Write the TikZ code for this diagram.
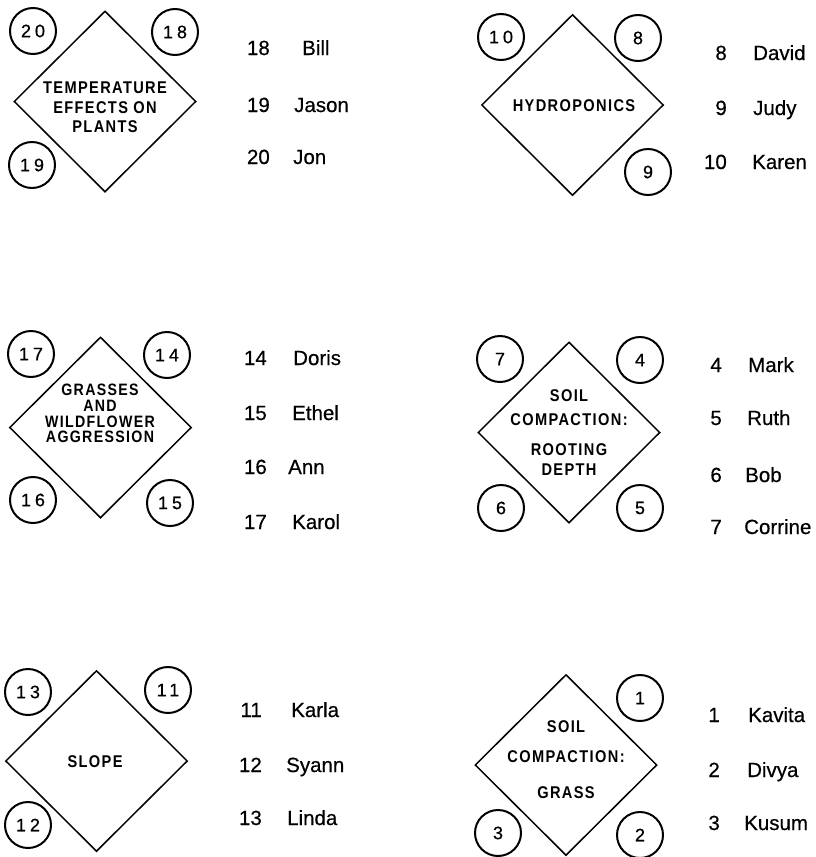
\documentclass[tikz,border=0pt]{standalone}
\usepackage{fontspec}
\setmainfont{Liberation Sans}
\newfontfamily\topicfont[FakeStretch=0.86,LetterSpace=8]{Liberation Sans}
\newfontfamily\seatfont[LetterSpace=22,FakeBold=0.6]{Liberation Sans}
\newfontfamily\listfont[FakeBold=0.5]{Liberation Sans}
\usetikzlibrary{shapes.geometric}
\tikzset{
  topic/.style={
    shape = diamond,
    draw,
    line width = 1.5pt,
    minimum width = 182pt,
    minimum height = 181pt,
    inner sep = 0pt
  },
  topiclabel/.style={
    align = center,
    inner sep = 0pt,
    font = \topicfont\bfseries\fontsize{17}{19.5}\selectfont
  },
  seat/.style={
    shape = circle,
    draw,
    line width = 2pt,
    minimum size = 46pt,
    inner sep = 0pt,
    font = \seatfont\fontsize{18}{18}\selectfont
  },
  seatnum/.style={
    anchor = base east,
    inner sep = 0pt,
    font = \listfont\fontsize{20.5}{24}\selectfont
  },
  pupil/.style={
    anchor = base west,
    inner sep = 0pt,
    font = \listfont\fontsize{20.5}{24}\selectfont
  }
}

\begin{document}
\begin{tikzpicture}[x=1pt,y=-1pt]
  \useasboundingbox (0,0) rectangle (815,857);
  % temperature
  \node[topic] (temp) at (105,101.5) {};
  \node[topiclabel] (tempL) at (105,107.5) {TEMPERATURE\\EFFECTS ON\\PLANTS};
  \node[seat] (s20) at (33,31) {20};
  \node[seat] (s18) at (175,32) {18};
  \node[seat] (s19) at (32,165) {19};
  \node[seatnum] (n18) at (270,55) {18};
  \node[pupil] (p18) at (302,55) {Bill};
  \node[seatnum] (n19) at (270,112) {19};
  \node[pupil] (p19) at (294,112) {Jason};
  \node[seatnum] (n20) at (270,164) {20};
  \node[pupil] (p20) at (293,164) {Jon};
  % hydroponics
  \node[topic] (hydro) at (572.5,105) {};
  \node[topiclabel] (hydroL) at (574,106) {HYDROPONICS};
  \node[seat] (s10) at (501,37) {10};
  \node[seat] (s8) at (638,38) {8};
  \node[seat] (s9) at (648,172) {9};
  \node[seatnum] (n8) at (727,60) {8};
  \node[pupil] (p8) at (753,60) {David};
  \node[seatnum] (n9) at (727,115) {9};
  \node[pupil] (p9) at (753,115) {Judy};
  \node[seatnum] (n10) at (727,169) {10};
  \node[pupil] (p10) at (752,169) {Karen};
  % grasses
  \node[topic] (grass) at (100.5,427.5) {};
  \node[topiclabel, font=\topicfont\bfseries\fontsize{16.5}{15.7}\selectfont] (grassL) at (100,413.5) {GRASSES\\AND\\WILDFLOWER\\AGGRESSION};
  \node[seat] (s17) at (31,354) {17};
  \node[seat] (s14) at (167,355) {14};
  \node[seat] (s16) at (33,500) {16};
  \node[seat] (s15) at (170,503) {15};
  \node[seatnum] (n14) at (267,365) {14};
  \node[pupil] (p14) at (293,365) {Doris};
  \node[seatnum] (n15) at (267,420) {15};
  \node[pupil] (p15) at (292,420) {Ethel};
  \node[seatnum] (n16) at (267,474) {16};
  \node[pupil] (p16) at (288,474) {Ann};
  \node[seatnum] (n17) at (267,529) {17};
  \node[pupil] (p17) at (292,529) {Karol};
  % soil compaction: rooting depth
  \node[topic] (root) at (569,432.5) {};
  \node[topiclabel, font=\topicfont\bfseries\fontsize{17}{20}\selectfont] (rootL) at (569,433) {SOIL\\[4pt]COMPACTION:\\[10pt]ROOTING\\DEPTH};
  \node[seat] (s7) at (500,359) {7};
  \node[seat] (s4) at (640,360) {4};
  \node[seat] (s6) at (501,508) {6};
  \node[seat] (s5) at (640,508) {5};
  \node[seatnum] (n4) at (722,372) {4};
  \node[pupil] (p4) at (748,372) {Mark};
  \node[seatnum] (n5) at (722,425) {5};
  \node[pupil] (p5) at (747,425) {Ruth};
  \node[seatnum] (n6) at (722,482) {6};
  \node[pupil] (p6) at (745,482) {Bob};
  \node[seatnum] (n7) at (722,534) {7};
  \node[pupil] (p7) at (744,534) {Corrine};
  % slope
  \node[topic] (slope) at (96.5,761) {};
  \node[topiclabel] (slopeL) at (95,762) {SLOPE};
  \node[seat] (s13) at (28,692) {13};
  \node[seat] (s11) at (168,690) {11};
  \node[seat] (s12) at (28,825) {12};
  \node[seatnum] (n11) at (262,717) {11};
  \node[pupil] (p11) at (291,717) {Karla};
  \node[seatnum] (n12) at (262,772) {12};
  \node[pupil] (p12) at (286,772) {Syann};
  \node[seatnum] (n13) at (262,825) {13};
  \node[pupil] (p13) at (287,825) {Linda};
  % soil compaction: grass
  \node[topic] (cgrass) at (566,765) {};
  \node[topiclabel, font=\topicfont\bfseries\fontsize{17}{30}\selectfont] (cgrassL) at (566,760) {SOIL\\COMPACTION:\\[6pt]GRASS};
  \node[seat] (s1) at (640,698) {1};
  \node[seat] (s3) at (498,833) {3};
  \node[seat] (s2) at (640,835) {2};
  \node[seatnum] (n1) at (720,722) {1};
  \node[pupil] (p1) at (748,722) {Kavita};
  \node[seatnum] (n2) at (720,777) {2};
  \node[pupil] (p2) at (747,777) {Divya};
  \node[seatnum] (n3) at (720,830) {3};
  \node[pupil] (p3) at (744,830) {Kusum};
\end{tikzpicture}
\end{document}
